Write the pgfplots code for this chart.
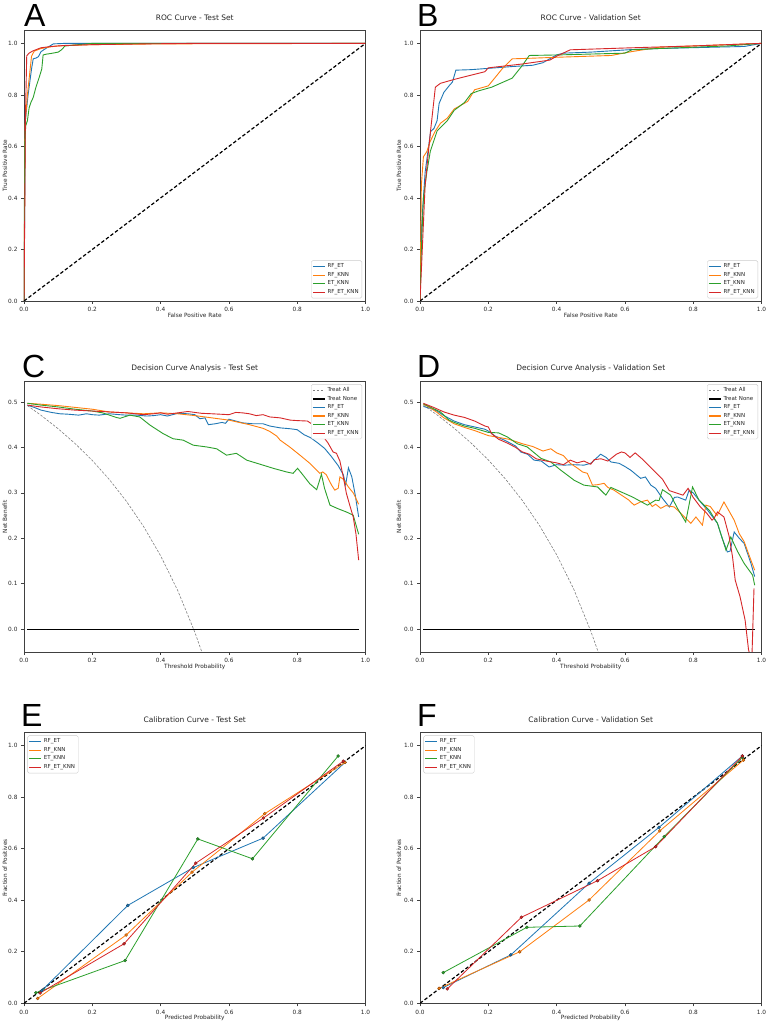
\documentclass[border=0pt]{standalone}
\usepackage{fontspec}
\setmainfont{DejaVu Sans}
\newfontfamily\letterfont{Liberation Sans}
\usepackage{pgfplots}
\pgfplotsset{compat=1.18}
\definecolor{C0}{HTML}{1F77B4}
\definecolor{C1}{HTML}{FF7F0E}
\definecolor{C2}{HTML}{2CA02C}
\definecolor{C3}{HTML}{D62728}
\tikzset{
  ln/.style={line width=0.9pt},
  diag/.style={black, line width=1.2pt, dash pattern=on 3.5pt off 2.2pt},
  tall/.style={color=gray, line width=0.6pt, dash pattern=on 2.5pt off 1.5pt},
  tnone/.style={color=black, line width=0.9pt},
}
\pgfplotsset{
  base/.style={
    scale only axis, width=341.5pt, height=270.5pt, anchor=south west,
    xmin=0, xmax=1,
    axis line style={black!75, line width=0.7pt},
    every tick/.style={black!75, line width=0.6pt},
    tick align=outside, major tick length=3pt,
    xtick pos=left, ytick pos=left,
    xtick={0,0.2,0.4,0.6,0.8,1},
    tick label style={font=\fontsize{5.8}{7}\selectfont, text=black!85},
    every axis x label/.append style={at={(axis description cs:0.5,0)}, anchor=center, yshift=-14.5pt, font=\fontsize{5.8}{7}\selectfont, text=black!85},
    every axis title/.append style={at={(axis description cs:0.5,1)}, anchor=center, yshift=7pt, font=\fontsize{7.5}{8.5}\selectfont, text=black!85},
    /pgf/number format/assume math mode=true,
    xticklabel style={/pgf/number format/.cd, fixed, fixed zerofill, precision=1},
    yticklabel style={/pgf/number format/.cd, fixed, fixed zerofill, precision=1},
    legend cell align=left,
    legend style={font=\fontsize{5.5}{7}\selectfont, draw=black!20, fill=white,
      rounded corners=1.5pt, inner sep=1.2pt, row sep=-1.0pt, text=black!85},
    legend image code/.code={\draw[#1, mark=none, line width=1.1pt] (0pt,0pt) -- (12pt,0pt);},
  },
  left/.style={every axis y label/.append style={at={(axis description cs:-0.0556,0.5)}, anchor=center, font=\fontsize{5.8}{7}\selectfont, text=black!85}},
  right/.style={every axis y label/.append style={at={(axis description cs:-0.0615,0.5)}, anchor=center, font=\fontsize{5.8}{7}\selectfont, text=black!85}},
  roc/.style={base, ymin=0, ymax=1.05, ytick={0,0.2,0.4,0.6,0.8,1},
    xlabel={False Positive Rate}, ylabel={True Positive Rate},
    legend style={at={(0.99,0.01)}, anchor=south east}},
  dca/.style={base, ymin=-0.05, ymax=0.545, ytick={0,0.1,0.2,0.3,0.4,0.5},
    xlabel={Threshold Probability}, ylabel={Net Benefit},
    legend style={at={(0.99,0.99)}, anchor=north east}},
  cal/.style={base, ymin=0, ymax=1.05, ytick={0,0.2,0.4,0.6,0.8,1},
    xlabel={Predicted Probability}, ylabel={Fraction of Positives},
    legend style={at={(0.01,0.99)}, anchor=north west}},
  mk/.style={color=#1, line width=0.8pt, mark=*, mark size=1.5pt, mark options={fill=#1, draw=#1!60!black, line width=0.4pt}},
}
\begin{document}
\begin{tikzpicture}[x=1pt,y=1pt]
\path[use as bounding box] (0pt,0pt) rectangle (767pt,1024pt);
\fill[white] (0pt,0pt) rectangle (767pt,1024pt);
\foreach \l/\x/\y in {A/24/997, B/417/997, C/22/646, D/417/646, E/21/297, F/417/297}
  \node[anchor=base west, inner sep=0, font=\letterfont\fontsize{32}{32}\selectfont] at (\x pt,\y pt) {\l};

% ---------------- A -----------------
\begin{axis}[roc, left, at={(24pt,723pt)}, title={ROC Curve - Test Set}]
\addplot[color=C0, ln] coordinates {(0,0) (0.004,0.7) (0.012,0.8) (0.022,0.9) (0.027,0.94) (0.035,0.943) (0.042,0.948) (0.05,0.968) (0.06,0.977) (0.076,0.99) (0.086,0.998) (0.12,1.0) (1,1)};
\addlegendentry{RF\_ET}
\addplot[color=C1, ln] coordinates {(0,0) (0.003,0.68) (0.01,0.8) (0.018,0.9) (0.022,0.95) (0.03,0.97) (0.05,0.98) (0.08,0.987) (0.1,0.99) (0.2,0.995) (0.4,0.998) (1,1)};
\addlegendentry{RF\_KNN}
\addplot[color=C2, ln] coordinates {(0,0) (0.002,0.6) (0.005,0.68) (0.01,0.7) (0.015,0.75) (0.02,0.77) (0.027,0.79) (0.035,0.83) (0.045,0.87) (0.052,0.9) (0.056,0.955) (0.065,0.958) (0.08,0.961) (0.1,0.966) (0.11,0.975) (0.12,0.99) (0.15,0.994) (0.2,1.0) (1,1)};
\addlegendentry{ET\_KNN}
\addplot[color=C3, ln] coordinates {(0,0) (0.002,0.3) (0.004,0.7) (0.008,0.952) (0.015,0.962) (0.025,0.97) (0.04,0.978) (0.05,0.983) (0.08,0.988) (0.12,0.992) (0.2,0.995) (0.35,0.998) (0.5,1.0) (1,1)};
\addlegendentry{RF\_ET\_KNN}
\addplot[diag, forget plot] coordinates {(0,0) (1,1)};
\end{axis}

% ---------------- B -----------------
\begin{axis}[roc, right, at={(420pt,723pt)}, title={ROC Curve - Validation Set}]
\addplot[color=C0, ln] coordinates {(0,0) (0.005,0.3) (0.015,0.5) (0.031,0.657) (0.041,0.67) (0.05,0.7) (0.056,0.767) (0.07,0.81) (0.085,0.835) (0.095,0.85) (0.105,0.896) (0.15,0.898) (0.2,0.903) (0.27,0.91) (0.33,0.915) (0.36,0.925) (0.373,0.935) (0.4,0.955) (0.42,0.962) (0.5,0.966) (0.62,0.976) (0.7,0.98) (0.95,0.988) (1,1)};
\addlegendentry{RF\_ET}
\addplot[color=C1, ln] coordinates {(0,0) (0.004,0.45) (0.01,0.56) (0.02,0.58) (0.03,0.62) (0.045,0.66) (0.06,0.69) (0.08,0.71) (0.1,0.745) (0.14,0.775) (0.16,0.82) (0.2,0.835) (0.24,0.9) (0.27,0.94) (0.32,0.942) (0.4,0.946) (0.56,0.953) (0.62,0.968) (0.7,0.985) (0.8,0.99) (1,1)};
\addlegendentry{RF\_KNN}
\addplot[color=C2, ln] coordinates {(0,0) (0.004,0.2) (0.01,0.4) (0.02,0.5) (0.03,0.58) (0.05,0.66) (0.08,0.7) (0.1,0.74) (0.13,0.77) (0.15,0.805) (0.17,0.815) (0.21,0.83) (0.27,0.865) (0.3,0.915) (0.32,0.953) (0.4,0.955) (0.6,0.962) (0.62,0.975) (0.7,0.98) (0.9,0.99) (1,1)};
\addlegendentry{ET\_KNN}
\addplot[color=C3, ln] coordinates {(0,0) (0.005,0.15) (0.015,0.45) (0.03,0.65) (0.045,0.83) (0.06,0.845) (0.1,0.86) (0.19,0.89) (0.2,0.905) (0.3,0.92) (0.38,0.935) (0.4,0.95) (0.44,0.975) (0.6,0.982) (0.8,0.99) (1,1)};
\addlegendentry{RF\_ET\_KNN}
\addplot[diag, forget plot] coordinates {(0,0) (1,1)};
\end{axis}

% ---------------- C -----------------
\begin{axis}[dca, left, at={(24pt,372pt)}, title={Decision Curve Analysis - Test Set}]
\addplot[tall] coordinates {(0.01,0.492) (0.05,0.4705) (0.1,0.4411) (0.15,0.4082) (0.2,0.3713) (0.25,0.3293) (0.3,0.2814) (0.35,0.2262) (0.4,0.1617) (0.45,0.0855) (0.5,-0.006) (0.525,-0.0589) (0.55,-0.1178)};
\addlegendentry{Treat All}
\addplot[tnone] coordinates {(0.01,0) (0.98,0)};
\addlegendentry{Treat None}
\addplot[color=C0, ln] coordinates {(0.01,0.493) (0.03,0.488) (0.05,0.482) (0.08,0.477) (0.105,0.474) (0.13,0.473) (0.16,0.471) (0.183,0.474) (0.2,0.472) (0.22,0.471) (0.25,0.474) (0.28,0.472) (0.3,0.471) (0.33,0.471) (0.36,0.469) (0.38,0.470) (0.4,0.472) (0.42,0.469) (0.45,0.475) (0.48,0.474) (0.5,0.472) (0.515,0.463) (0.53,0.465) (0.54,0.450) (0.56,0.452) (0.58,0.455) (0.59,0.453) (0.6,0.462) (0.62,0.458) (0.64,0.454) (0.67,0.452) (0.7,0.452) (0.72,0.447) (0.75,0.443) (0.78,0.441) (0.8,0.439) (0.82,0.428) (0.84,0.421) (0.86,0.410) (0.88,0.398) (0.9,0.380) (0.92,0.360) (0.935,0.340) (0.942,0.318) (0.95,0.355) (0.96,0.335) (0.97,0.295) (0.98,0.247)};
\addlegendentry{RF\_ET}
\addplot[color=C1, ln] coordinates {(0.01,0.497) (0.05,0.495) (0.1,0.492) (0.15,0.488) (0.2,0.484) (0.25,0.478) (0.3,0.476) (0.35,0.474) (0.4,0.476) (0.45,0.474) (0.5,0.470) (0.55,0.465) (0.6,0.460) (0.63,0.455) (0.66,0.450) (0.7,0.442) (0.72,0.435) (0.74,0.425) (0.75,0.416) (0.778,0.401) (0.808,0.383) (0.837,0.365) (0.866,0.343) (0.875,0.346) (0.885,0.34) (0.9,0.318) (0.91,0.306) (0.92,0.31) (0.925,0.335) (0.935,0.33) (0.95,0.313) (0.965,0.299) (0.98,0.275)};
\addlegendentry{RF\_KNN}
\addplot[color=C2, ln] coordinates {(0.01,0.497) (0.05,0.493) (0.1,0.489) (0.15,0.484) (0.2,0.480) (0.23,0.476) (0.25,0.471) (0.27,0.466) (0.281,0.464) (0.31,0.471) (0.339,0.467) (0.369,0.449) (0.408,0.430) (0.437,0.419) (0.466,0.416) (0.495,0.405) (0.535,0.401) (0.564,0.397) (0.593,0.383) (0.622,0.387) (0.652,0.372) (0.7,0.361) (0.73,0.354) (0.769,0.346) (0.788,0.343) (0.801,0.354) (0.813,0.343) (0.837,0.32) (0.857,0.307) (0.871,0.341) (0.88,0.31) (0.896,0.273) (0.92,0.265) (0.944,0.258) (0.964,0.251) (0.98,0.209)};
\addlegendentry{ET\_KNN}
\addplot[color=C3, ln] coordinates {(0.01,0.493) (0.05,0.489) (0.1,0.485) (0.15,0.482) (0.2,0.480) (0.25,0.478) (0.3,0.476) (0.35,0.472) (0.38,0.474) (0.4,0.476) (0.42,0.473) (0.45,0.476) (0.48,0.479) (0.5,0.477) (0.52,0.475) (0.55,0.474) (0.6,0.472) (0.62,0.477) (0.64,0.476) (0.66,0.474) (0.68,0.470) (0.7,0.472) (0.72,0.467) (0.75,0.465) (0.78,0.460) (0.8,0.459) (0.83,0.458) (0.85,0.448) (0.87,0.430) (0.89,0.410) (0.905,0.390) (0.915,0.387) (0.925,0.370) (0.935,0.335) (0.944,0.299) (0.955,0.270) (0.964,0.247) (0.972,0.210) (0.98,0.152)};
\addlegendentry{RF\_ET\_KNN}
\end{axis}

% ---------------- D -----------------
\begin{axis}[dca, right, at={(420pt,372pt)}, title={Decision Curve Analysis - Validation Set}]
\addplot[tall] coordinates {(0.01,0.493) (0.05,0.4715) (0.1,0.4422) (0.15,0.4094) (0.2,0.3725) (0.25,0.3307) (0.3,0.2829) (0.35,0.2280) (0.4,0.1640) (0.45,0.0885) (0.5,-0.004) (0.525,-0.0566) (0.55,-0.1151)};
\addlegendentry{Treat All}
\addplot[tnone] coordinates {(0.01,0) (0.98,0)};
\addlegendentry{Treat None}
\addplot[color=C0, ln] coordinates {(0.01,0.490) (0.03,0.486) (0.05,0.480) (0.07,0.470) (0.1,0.458) (0.13,0.450) (0.16,0.445) (0.19,0.440) (0.2,0.436) (0.22,0.425) (0.25,0.415) (0.28,0.403) (0.295,0.390) (0.315,0.385) (0.334,0.372) (0.355,0.370) (0.378,0.357) (0.4,0.362) (0.422,0.361) (0.45,0.362) (0.48,0.361) (0.5,0.365) (0.529,0.385) (0.545,0.378) (0.559,0.368) (0.583,0.365) (0.6,0.358) (0.617,0.350) (0.646,0.332) (0.66,0.335) (0.676,0.317) (0.69,0.310) (0.71,0.288) (0.73,0.269) (0.745,0.290) (0.754,0.291) (0.778,0.284) (0.788,0.306) (0.8,0.300) (0.817,0.284) (0.842,0.262) (0.871,0.233) (0.885,0.200) (0.9,0.170) (0.908,0.172) (0.92,0.214) (0.935,0.200) (0.949,0.189) (0.969,0.145) (0.98,0.116)};
\addlegendentry{RF\_ET}
\addplot[color=C1, ln] coordinates {(0.01,0.495) (0.03,0.487) (0.05,0.477) (0.07,0.465) (0.1,0.452) (0.13,0.444) (0.16,0.437) (0.2,0.426) (0.23,0.422) (0.26,0.418) (0.3,0.408) (0.33,0.402) (0.36,0.392) (0.383,0.397) (0.4,0.388) (0.42,0.382) (0.44,0.365) (0.46,0.355) (0.476,0.346) (0.49,0.343) (0.505,0.317) (0.52,0.318) (0.539,0.321) (0.55,0.312) (0.568,0.306) (0.59,0.295) (0.61,0.285) (0.627,0.273) (0.645,0.280) (0.666,0.284) (0.68,0.270) (0.69,0.275) (0.705,0.266) (0.72,0.272) (0.744,0.269) (0.76,0.258) (0.778,0.244) (0.793,0.233) (0.808,0.247) (0.827,0.229) (0.837,0.273) (0.85,0.270) (0.87,0.250) (0.89,0.280) (0.905,0.260) (0.92,0.240) (0.935,0.210) (0.949,0.193) (0.965,0.160) (0.98,0.130)};
\addlegendentry{RF\_KNN}
\addplot[color=C2, ln] coordinates {(0.01,0.496) (0.04,0.485) (0.06,0.478) (0.085,0.460) (0.1,0.455) (0.13,0.447) (0.16,0.442) (0.2,0.433) (0.23,0.432) (0.256,0.423) (0.285,0.408) (0.314,0.401) (0.354,0.376) (0.383,0.368) (0.412,0.350) (0.451,0.328) (0.48,0.317) (0.52,0.313) (0.544,0.295) (0.559,0.312) (0.598,0.299) (0.622,0.291) (0.666,0.273) (0.69,0.284) (0.7,0.283) (0.71,0.307) (0.734,0.295) (0.754,0.266) (0.778,0.236) (0.798,0.313) (0.817,0.284) (0.847,0.262) (0.871,0.233) (0.896,0.174) (0.91,0.203) (0.93,0.171) (0.949,0.145) (0.974,0.119) (0.98,0.097)};
\addlegendentry{ET\_KNN}
\addplot[color=C3, ln] coordinates {(0.01,0.497) (0.04,0.488) (0.07,0.478) (0.1,0.471) (0.13,0.466) (0.16,0.458) (0.19,0.447) (0.2,0.445) (0.21,0.430) (0.23,0.418) (0.26,0.408) (0.28,0.400) (0.3,0.390) (0.32,0.385) (0.34,0.375) (0.37,0.370) (0.4,0.366) (0.42,0.362) (0.44,0.372) (0.46,0.366) (0.48,0.370) (0.5,0.363) (0.51,0.373) (0.53,0.375) (0.55,0.370) (0.575,0.385) (0.59,0.390) (0.6,0.388) (0.615,0.378) (0.63,0.388) (0.65,0.375) (0.67,0.360) (0.69,0.345) (0.71,0.330) (0.73,0.305) (0.75,0.300) (0.77,0.295) (0.785,0.310) (0.8,0.290) (0.82,0.270) (0.84,0.255) (0.855,0.240) (0.861,0.244) (0.871,0.258) (0.89,0.247) (0.905,0.205) (0.915,0.160) (0.923,0.108) (0.937,0.072) (0.952,0.020) (0.962,-0.045) (0.967,-0.06) (0.972,-0.06) (0.978,0.09)};
\addlegendentry{RF\_ET\_KNN}
\end{axis}

% ---------------- E -----------------
\begin{axis}[cal, left, at={(24pt,20.7pt)}, title={Calibration Curve - Test Set}]
\addplot[diag, forget plot] coordinates {(0,0) (1,1)};
\addplot[mk=C0] coordinates {(0.052,0.049) (0.304,0.38) (0.496,0.527) (0.70,0.641) (0.94,0.935)};
\addlegendentry{RF\_ET}
\addplot[mk=C1] coordinates {(0.04,0.019) (0.299,0.265) (0.492,0.509) (0.705,0.736) (0.94,0.935)};
\addlegendentry{RF\_KNN}
\addplot[mk=C2] coordinates {(0.035,0.041) (0.296,0.166) (0.509,0.638) (0.669,0.561) (0.92,0.96)};
\addlegendentry{ET\_KNN}
\addplot[mk=C3] coordinates {(0.047,0.04) (0.293,0.231) (0.503,0.544) (0.701,0.719) (0.935,0.94)};
\addlegendentry{RF\_ET\_KNN}
\end{axis}

% ---------------- F -----------------
\begin{axis}[cal, right, at={(420pt,20.7pt)}, title={Calibration Curve - Validation Set}]
\addplot[diag, forget plot] coordinates {(0,0) (1,1)};
\addplot[mk=C0] coordinates {(0.068,0.061) (0.266,0.188) (0.495,0.466) (0.70,0.683) (0.944,0.96)};
\addlegendentry{RF\_ET}
\addplot[mk=C1] coordinates {(0.056,0.058) (0.292,0.2) (0.495,0.401) (0.702,0.669) (0.947,0.944)};
\addlegendentry{RF\_KNN}
\addplot[mk=C2] coordinates {(0.068,0.119) (0.313,0.295) (0.468,0.3) (0.715,0.647) (0.944,0.955)};
\addlegendentry{ET\_KNN}
\addplot[mk=C3] coordinates {(0.08,0.056) (0.297,0.334) (0.52,0.476) (0.69,0.608) (0.944,0.96)};
\addlegendentry{RF\_ET\_KNN}
\end{axis}
\end{tikzpicture}
\end{document}
